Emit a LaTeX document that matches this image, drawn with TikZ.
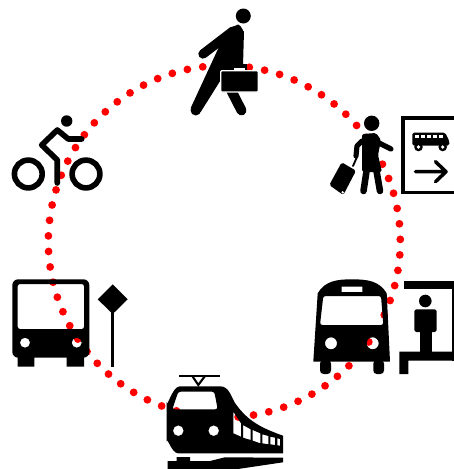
\documentclass[tikz,border=0pt]{standalone}
\tikzset{
  icon/.style={fill=black, even odd rule},
  limb/.style={draw=black, line cap=round, line join=round, line width=#1},
  limb/.default=4.6pt,
  halo/.style={draw=white, line width=1pt},
  routedot/.style={fill=red}
}
\begin{document}
\begin{tikzpicture}[x=0.03cm,y=-0.03cm]
\useasboundingbox (0,0) rectangle (454,469);
% dotted route
\foreach \i in {0,...,70}
  \fill[routedot] ({224.3+176*cos(0.7+\i*5.0704)},{241.5-176*sin(0.7+\i*5.0704)}) circle (3.9);
% walker
\fill[icon] (243.3,16) circle (7.5);
\fill[icon] (231.5,27.5) -- (238,24.5) to[out=0,in=-90] (244,31) -- (243,66) -- (235,66) -- (235,72) -- (222,78)
  -- (200.7,112) -- (190.7,108) -- (218,49) -- cycle;
\fill[icon] (195.8,110.2) circle (5.3);
\draw[limb=8pt] (233,31) -- (203,54);
\draw[limb=8.5pt] (231,90) -- (241.5,110.5);
\fill[icon] (232,63.5) rectangle (247,71);
\fill[white] (234,68) rectangle (245,71);
\filldraw[halo, fill=black, rounded corners=1pt] (220.7,70.7) rectangle (258.3,92);
% cyclist
\fill[icon] (66.7,121) circle (5.7);
\draw[limb=4.8pt] (28.3,174) circle (13.9);
\draw[limb=4.8pt] (86,174) circle (13.9);
\draw[limb=4.8pt] (81.7,139) -- (68.3,139) -- (57.3,130) -- (41.7,145) -- (57.3,160) -- (57.3,183);
% traveller
\fill[icon] (371.7,123.3) circle (7.7);
\fill[icon, rounded corners=1.5pt] (362,134) -- (376,133) -- (381,140) -- (378,155) -- (382,172) -- (362,172) -- (362,150) -- cycle;
\draw[limb=5.6pt] (367,168) -- (363.5,191);
\draw[limb=5.6pt] (376,168) -- (380,191);
\draw[limb=4.4pt] (375,141) -- (391,149);
\draw[limb=4.4pt] (362,141) -- (357,146) -- (356,156);
\draw[limb=1.6pt] (353,166) -- (357,157);
\fill[icon, rounded corners=1.5pt] (341.7,162.3) -- (356,170.7) -- (343.3,195) -- (329.3,185) -- cycle;
\fill[white] (342.7,192.3) circle (1.3);
% direction sign
\draw[draw=black, line width=3.4pt] (454,118) -- (403,118) -- (403,192.5) -- (454,192.5);
\fill[icon, rounded corners=1.5pt] (412.3,132.5) -- (445,132.5) -- (449.3,141) -- (449.3,145.7) -- (412.3,145.7) -- cycle;
\foreach \x in {415,421,427,433,439}
  \fill[white] (\x,134.7) rectangle ++(4,3.6);
\fill[icon] (418.5,147) circle (4.3) (442.7,147) circle (4.3);
\fill[white] (418.5,147) circle (1.8) (442.7,147) circle (1.8);
\draw[limb=3pt] (415.5,171.7) -- (445,171.7) (435.5,161.7) -- (446,171.7) -- (435.5,181.7);
% bus at shelter
\fill[icon] (313.3,361.7) -- (317.7,293.3) to[out=60,in=180] (351.7,279.3) to[out=0,in=120] (386.7,293.3) -- (390,361.7) -- cycle
  [rounded corners=2pt] (323.3,296) -- (381,296) -- (383.3,325) -- (320,325) -- cycle
  [sharp corners] (341.7,286.7) rectangle (362.3,292)
  (331,343.3) circle (6) (372.7,343.3) circle (6);
\fill[icon, rounded corners=3pt] (320,360) rectangle (331,374) (373.3,360) rectangle (384,374);
% shelter
\fill[icon] (404.3,280.7) rectangle (454,289.3);
\fill[icon] (451.5,280.7) rectangle (454,360.7);
\fill[icon] (425.3,301) circle (6.3);
\fill[icon, rounded corners=2pt] (414.3,309.3) rectangle (436.7,332);
\fill[icon] (420,330) rectangle (431.7,352);
\fill[icon] (399.3,351.7) -- (454,351.7) -- (454,360.7) -- (408.3,360.7) -- (408.3,374) -- (399.3,374) -- cycle;
% train
\draw[draw=black, line width=2.4pt] (179,376) -- (220,376);
\draw[draw=black, line width=1.8pt] (192.3,376) -- (198.3,385) -- (205,376);
\fill[icon] (166.7,441.7) -- (166.7,402) to[out=-90,in=180] (180,386.3) -- (220,386.3)
  to[out=0,in=120] (235,403) to[out=-55,in=160] (283,435.7) -- (283,453.3) -- (178,453.3) to[out=180,in=90] (166.7,441.7) -- cycle
  [rounded corners=2pt] (178.3,391.7) -- (214.3,391.7) -- (217.7,409.3) -- (172.3,409.3) -- cycle
  [sharp corners] (178.3,430.7) circle (5.3) (213.7,430.7) circle (5.3)
  (233.3,411.7) -- (241,423.3) -- (241,436.7) -- (233.3,433.3) -- cycle
  (243,425) -- (250.7,429.3) -- (250.7,440) -- (243,437.7) -- cycle
  (252.7,430) -- (260.3,433.3) -- (260.3,443.3) -- (252.7,440.7) -- cycle
  (262.3,434.3) -- (268.3,436) -- (268.3,444.3) -- (262.3,443.3) -- cycle
  (270.3,436.7) -- (275,437.7) -- (275,445) -- (270.3,444.3) -- cycle
  (277.3,438.3) -- (280,439) -- (280,445.7) -- (277.3,445.3) -- cycle;
\fill[icon] (167.7,461) -- (176.7,461) -- (176.7,457) -- (190,457) -- (190,461) -- (210,461) -- (225,457.3) -- (283,457.7)
  -- (283,462.3) -- (238,469) -- (167.7,469) -- cycle;
% bus at stop
\fill[icon, rounded corners=5pt] (12.3,279.3) rectangle (89.3,357.7)
  [rounded corners=2pt] (17.7,284) rectangle (84,329)
  [sharp corners] (25,342.7) circle (5) (76.7,342.7) circle (5);
\fill[icon] (17.7,357) rectangle (34.3,366.7) (66.7,357) rectangle (84,366.7);
% stop sign
\fill[icon] (112.7,284.3) -- (127.7,299.3) -- (112.7,314) -- (97.7,299.3) -- cycle;
\draw[draw=black, line width=2.8pt] (112.7,305) -- (112.7,366.7);
\end{tikzpicture}
\end{document}
